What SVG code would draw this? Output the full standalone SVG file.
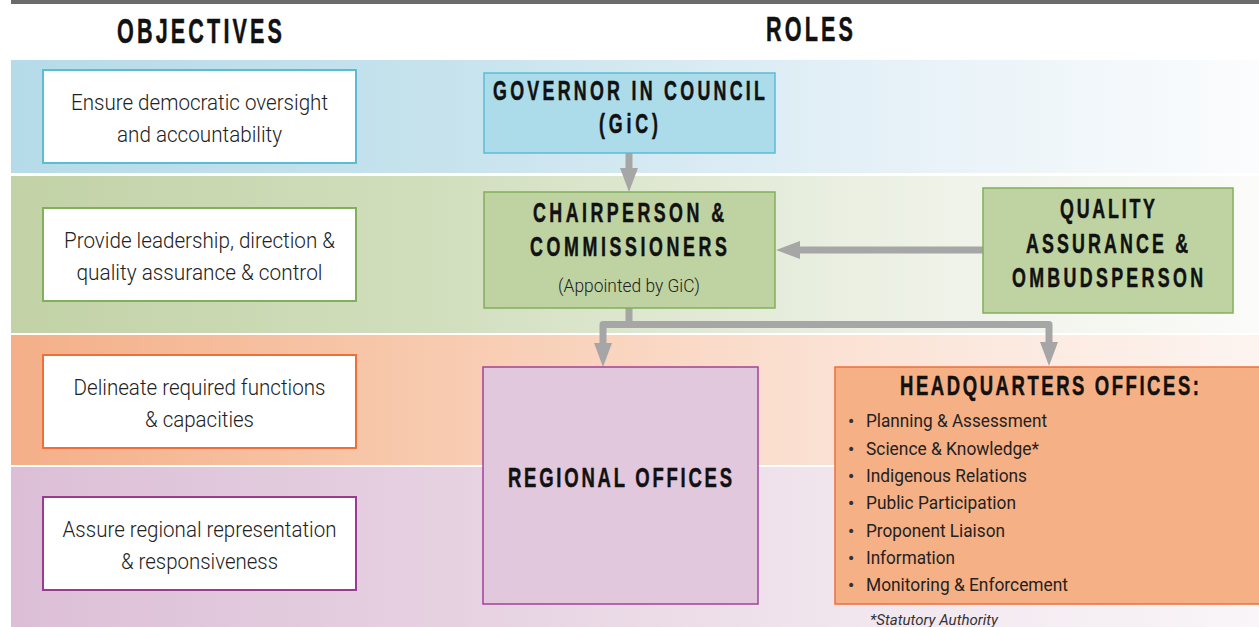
<svg xmlns="http://www.w3.org/2000/svg" width="1259" height="627" viewBox="0 0 1259 627">
  <defs>
    <linearGradient id="gBlue" x1="0" y1="0" x2="1" y2="0">
      <stop offset="0" stop-color="#b6dbe8"/>
      <stop offset="0.35" stop-color="#c6e3ed"/>
      <stop offset="0.68" stop-color="#e4f0f7"/>
      <stop offset="1" stop-color="#fbfcfd"/>
    </linearGradient>
    <linearGradient id="gGreen" x1="0" y1="0" x2="1" y2="0">
      <stop offset="0" stop-color="#c2d2a6"/>
      <stop offset="0.35" stop-color="#d2dfbe"/>
      <stop offset="0.68" stop-color="#ebf0e3"/>
      <stop offset="1" stop-color="#fbfbf9"/>
    </linearGradient>
    <linearGradient id="gOrange" x1="0" y1="0" x2="1" y2="0">
      <stop offset="0" stop-color="#f4af88"/>
      <stop offset="0.35" stop-color="#f8cbb0"/>
      <stop offset="0.68" stop-color="#fbe3d6"/>
      <stop offset="1" stop-color="#fdf4f0"/>
    </linearGradient>
    <linearGradient id="gPurple" x1="0" y1="0" x2="1" y2="0">
      <stop offset="0" stop-color="#dcbfd7"/>
      <stop offset="0.35" stop-color="#e6d1e1"/>
      <stop offset="0.68" stop-color="#f1e6ee"/>
      <stop offset="1" stop-color="#f9f5f8"/>
    </linearGradient>
    <marker id="head" markerUnits="userSpaceOnUse" markerWidth="26" markerHeight="20" refX="0" refY="10" orient="auto" viewBox="0 0 26 20">
      <path d="M0,1 L24,10 L0,19 z" fill="#a6a6a6"/>
    </marker>
    <style>
      .title { font-family: "Liberation Sans", Arial, sans-serif; font-weight: bold; font-style: normal; fill: #111; stroke: #111; stroke-width: 0.5; text-anchor: middle; }
      .obj { font-family: Roboto, "Liberation Sans", sans-serif; font-weight: 300; font-size: 22px; fill: #222; text-anchor: middle; }
      .item { font-family: Roboto, "Liberation Sans", sans-serif; font-weight: 400; font-size: 19px; fill: #222; }
      .bullet { font-family: "DejaVu Sans", sans-serif; font-size: 14px; fill: #333; }
      .objbox { fill: #ffffff; stroke-width: 2; }
      .conn { fill: none; stroke: #a6a6a6; stroke-width: 7; stroke-linejoin: round; marker-end: url(#head); }
    </style>
  </defs>

  <!-- background and top rule -->
  <rect x="0" y="0" width="1259" height="627" fill="#ffffff"/>
  <rect x="11" y="0" width="1248" height="4" fill="#6b6b6b"/>

  <!-- horizontal bands -->
  <rect x="11" y="60" width="1248" height="113" fill="url(#gBlue)"/>
  <rect x="11" y="176" width="1248" height="157" fill="url(#gGreen)"/>
  <rect x="11" y="335" width="1248" height="130" fill="url(#gOrange)"/>
  <rect x="11" y="467" width="1248" height="160" fill="url(#gPurple)"/>

  <!-- column headings (narrowed, letter-spaced caps) -->
  <text class="title" transform="matrix(0.6 0 0 1 199.5 0)" x="0" y="43" font-size="36" textLength="275" lengthAdjust="spacing">OBJECTIVES</text>
  <text class="title" transform="matrix(0.6 0 0 1 809.5 0)" x="0" y="41" font-size="36" textLength="145" lengthAdjust="spacing">ROLES</text>

  <!-- objectives -->
  <g id="obj-oversight">
    <rect class="objbox" x="43" y="70" width="313" height="93" stroke="#5bbcd6"/>
    <text class="obj" x="199.5" y="110" textLength="257" lengthAdjust="spacingAndGlyphs">Ensure democratic oversight</text>
    <text class="obj" x="199.5" y="142" textLength="165" lengthAdjust="spacingAndGlyphs">and accountability</text>
  </g>
  <g id="obj-leadership">
    <rect class="objbox" x="43" y="208" width="313" height="93" stroke="#80b05b"/>
    <text class="obj" x="199.5" y="248" textLength="271" lengthAdjust="spacingAndGlyphs">Provide leadership, direction &amp;</text>
    <text class="obj" x="199.5" y="280" textLength="246" lengthAdjust="spacingAndGlyphs">quality assurance &amp; control</text>
  </g>
  <g id="obj-functions">
    <rect class="objbox" x="43" y="355" width="313" height="93" stroke="#f06f38"/>
    <text class="obj" x="199.5" y="395" textLength="252" lengthAdjust="spacingAndGlyphs">Delineate required functions</text>
    <text class="obj" x="199.5" y="427" textLength="109" lengthAdjust="spacingAndGlyphs">&amp; capacities</text>
  </g>
  <g id="obj-regional">
    <rect class="objbox" x="43" y="497" width="313" height="93" stroke="#9c3a8f"/>
    <text class="obj" x="199.5" y="537" textLength="274" lengthAdjust="spacingAndGlyphs">Assure regional representation</text>
    <text class="obj" x="199.5" y="569" textLength="157" lengthAdjust="spacingAndGlyphs">&amp; responsiveness</text>
  </g>

  <!-- connectors -->
  <g id="connectors">
    <path class="conn" d="M629,153 V168"/>
    <path class="conn" d="M983,250 H800"/>
    <path class="conn" d="M629,308 V324.5 H603 V343"/>
    <path class="conn" d="M629,324.5 H1049 V342"/>
  </g>

  <!-- roles -->
  <g id="gic">
    <rect x="484" y="73" width="291" height="80" fill="#acdbea" stroke="#5bbcd6" stroke-width="1.5"/>
    <text class="title" transform="matrix(0.66 0 0 1 629 0)" x="0" y="100" font-size="27" textLength="412" lengthAdjust="spacing">GOVERNOR IN COUNCIL</text>
    <text class="title" transform="matrix(0.66 0 0 1 628.5 0)" x="0" y="133" font-size="27" textLength="89.4" lengthAdjust="spacing">(GiC)</text>
  </g>
  <g id="chair">
    <rect x="484" y="192" width="291" height="116" fill="#bfd3a2" stroke="#80b05b" stroke-width="1.5"/>
    <text class="title" transform="matrix(0.66 0 0 1 628.5 0)" x="0" y="222" font-size="27" textLength="289.4" lengthAdjust="spacing">CHAIRPERSON &amp;</text>
    <text class="title" transform="matrix(0.66 0 0 1 628.5 0)" x="0" y="256" font-size="27" textLength="298.5" lengthAdjust="spacing">COMMISSIONERS</text>
    <text class="obj" x="629" y="292" style="font-size:18px" textLength="142" lengthAdjust="spacingAndGlyphs">(Appointed by GiC)</text>
  </g>
  <g id="qa">
    <rect x="983" y="188" width="250" height="125" fill="#bfd3a2" stroke="#80b05b" stroke-width="1.5"/>
    <text class="title" transform="matrix(0.66 0 0 1 1107.5 0)" x="0" y="218" font-size="27" textLength="143.9" lengthAdjust="spacing">QUALITY</text>
    <text class="title" transform="matrix(0.66 0 0 1 1107 0)" x="0" y="253" font-size="27" textLength="245.5" lengthAdjust="spacing">ASSURANCE &amp;</text>
    <text class="title" transform="matrix(0.66 0 0 1 1107.5 0)" x="0" y="287" font-size="27" textLength="289.4" lengthAdjust="spacing">OMBUDSPERSON</text>
  </g>
  <g id="regional">
    <rect x="483" y="367" width="275" height="237" fill="#e2c8dc" stroke="#a0439a" stroke-width="1.5"/>
    <text class="title" transform="matrix(0.66 0 0 1 620 0)" x="0" y="487" font-size="28" textLength="339.4" lengthAdjust="spacing">REGIONAL OFFICES</text>
  </g>
  <g id="hq">
    <rect x="835" y="367" width="430" height="237" fill="#f6b085" stroke="#f06f38" stroke-width="1.5"/>
    <text class="title" transform="matrix(0.66 0 0 1 1049.5 0)" x="0" y="395" font-size="28" textLength="453" lengthAdjust="spacing">HEADQUARTERS OFFICES:</text>
    <g class="bullet">
      <text x="847" y="426">•</text>
      <text x="847" y="454">•</text>
      <text x="847" y="481">•</text>
      <text x="847" y="508">•</text>
      <text x="847" y="536">•</text>
      <text x="847" y="563">•</text>
      <text x="847" y="590">•</text>
    </g>
    <text class="item" x="866" y="427" textLength="181" lengthAdjust="spacingAndGlyphs">Planning &amp; Assessment</text>
    <text class="item" x="866" y="455" textLength="173" lengthAdjust="spacingAndGlyphs">Science &amp; Knowledge*</text>
    <text class="item" x="866" y="482" textLength="161" lengthAdjust="spacingAndGlyphs">Indigenous Relations</text>
    <text class="item" x="866" y="509" textLength="150" lengthAdjust="spacingAndGlyphs">Public Participation</text>
    <text class="item" x="866" y="537" textLength="139" lengthAdjust="spacingAndGlyphs">Proponent Liaison</text>
    <text class="item" x="866" y="564" textLength="89" lengthAdjust="spacingAndGlyphs">Information</text>
    <text class="item" x="866" y="591" textLength="202" lengthAdjust="spacingAndGlyphs">Monitoring &amp; Enforcement</text>
  </g>

  <!-- footnote -->
  <text x="870" y="625" font-family="Roboto, 'Liberation Sans', sans-serif" font-style="italic" font-size="15" fill="#333" textLength="128" lengthAdjust="spacingAndGlyphs">*Statutory Authority</text>
</svg>
